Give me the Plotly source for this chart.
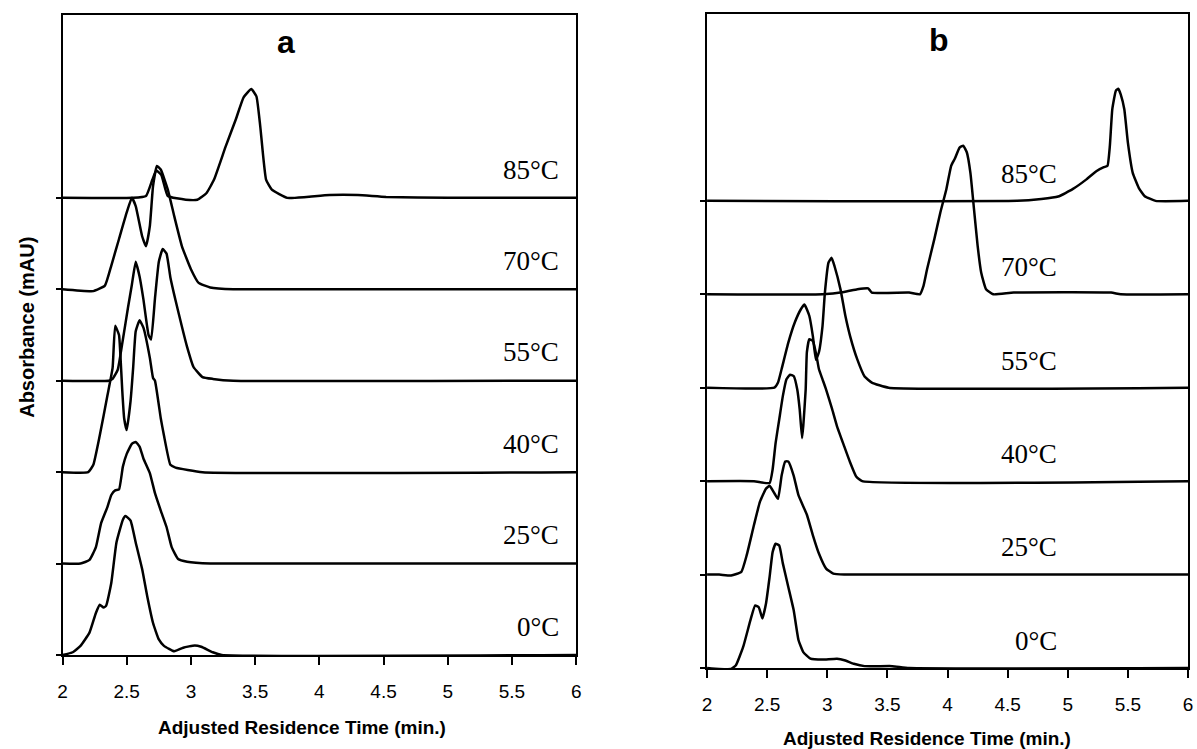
import plotly.graph_objects as go

# ---------------- data ----------------
TEMPS = ["0°C", "25°C", "40°C", "55°C", "70°C", "85°C"]
X_TICKS = [2, 2.5, 3, 3.5, 4, 4.5, 5, 5.5, 6]

# Panel a : retention time (min) / absorbance (relative, per trace)
A_0_T = [2.0, 2.08, 2.14, 2.21, 2.26, 2.29, 2.32, 2.34, 2.38, 2.42, 2.47, 2.49, 2.53, 2.57, 2.62, 2.66, 2.705, 2.75, 2.79, 2.87, 2.94, 3.03, 3.08, 3.17, 3.24, 6.0]
A_0_Y = [0.0, 0.03, 0.10, 0.245, 0.46, 0.55, 0.52, 0.54, 0.79, 1.23, 1.48, 1.52, 1.47, 1.23, 0.94, 0.64, 0.35, 0.17, 0.10, 0.04, 0.08, 0.105, 0.09, 0.03, 0.0, 0.0]

A_25_T = [2.0, 2.14, 2.21, 2.26, 2.30, 2.35, 2.38, 2.41, 2.44, 2.47, 2.50, 2.54, 2.57, 2.60, 2.63, 2.68, 2.72, 2.765, 2.81, 2.85, 2.90, 2.97, 3.15, 6.0]
A_25_Y = [0.0, 0.0, 0.04, 0.18, 0.44, 0.62, 0.75, 0.80, 0.81, 1.06, 1.20, 1.31, 1.33, 1.28, 1.15, 0.99, 0.77, 0.58, 0.40, 0.18, 0.05, 0.02, 0.0, 0.0]

A_40_T = [2.0, 2.20, 2.24, 2.29, 2.35, 2.39, 2.41, 2.44, 2.45, 2.465, 2.48, 2.50, 2.53, 2.55, 2.57, 2.60, 2.63, 2.68, 2.705, 2.72, 2.765, 2.79, 2.84, 2.88, 3.09, 6.0]
A_40_Y = [0.0, 0.0, 0.08, 0.40, 0.84, 1.14, 1.60, 1.50, 1.30, 0.90, 0.59, 0.46, 0.78, 1.14, 1.54, 1.66, 1.58, 1.25, 1.03, 1.00, 0.59, 0.40, 0.08, 0.05, 0.0, 0.0]

A_55_T = [2.0, 2.36, 2.39, 2.43, 2.47, 2.51, 2.54, 2.57, 2.60, 2.63, 2.67, 2.69, 2.72, 2.75, 2.78, 2.81, 2.84, 2.88, 2.93, 2.97, 3.02, 3.09, 3.17, 3.33, 6.0]
A_55_Y = [0.0, 0.0, 0.02, 0.12, 0.45, 0.80, 1.05, 1.30, 1.14, 0.89, 0.50, 0.45, 0.90, 1.30, 1.44, 1.39, 1.13, 0.88, 0.59, 0.37, 0.15, 0.04, 0.02, 0.0, 0.0]

A_70_T = [2.0, 2.24, 2.33, 2.38, 2.44, 2.50, 2.54, 2.57, 2.62, 2.65, 2.68, 2.705, 2.735, 2.765, 2.82, 2.87, 2.93, 3.00, 3.06, 3.15, 3.33, 6.0]
A_70_Y = [0.0, -0.02, 0.04, 0.26, 0.55, 0.84, 1.00, 0.91, 0.58, 0.47, 0.69, 1.13, 1.35, 1.31, 1.09, 0.80, 0.47, 0.22, 0.07, 0.02, 0.0, 0.0]

A_85_T = [2.0, 2.55, 2.65, 2.70, 2.73, 2.77, 2.82, 2.96, 3.05, 3.12, 3.18, 3.27, 3.35, 3.41, 3.47, 3.51, 3.54, 3.585, 3.63, 3.75, 3.90, 4.08, 4.30, 4.52, 5.0, 6.0]
A_85_Y = [0.0, 0.0, 0.02, 0.20, 0.30, 0.25, 0.02, -0.02, -0.02, 0.05, 0.20, 0.56, 0.86, 1.10, 1.19, 1.11, 0.78, 0.20, 0.09, 0.0, 0.01, 0.03, 0.03, 0.01, 0.0, 0.0]

# Panel b
B_0_T = [2.0, 2.10, 2.20, 2.24, 2.30, 2.36, 2.40, 2.43, 2.46, 2.49, 2.52, 2.545, 2.57, 2.60, 2.63, 2.675, 2.72, 2.76, 2.80, 2.86, 2.96, 3.08, 3.15, 3.22, 3.31, 3.54, 3.68, 6.0]
B_0_Y = [0.0, -0.01, -0.01, 0.03, 0.225, 0.51, 0.67, 0.65, 0.53, 0.69, 0.975, 1.24, 1.33, 1.31, 1.12, 0.87, 0.62, 0.30, 0.17, 0.10, 0.09, 0.10, 0.08, 0.046, 0.02, 0.02, 0.0, 0.0]

B_25_T = [2.0, 2.10, 2.20, 2.285, 2.33, 2.39, 2.44, 2.49, 2.52, 2.56, 2.59, 2.62, 2.65, 2.675, 2.72, 2.76, 2.83, 2.88, 2.93, 2.99, 3.05, 3.14, 6.0]
B_25_Y = [0.0, 0.0, -0.01, 0.03, 0.21, 0.53, 0.78, 0.92, 0.95, 0.87, 0.81, 1.06, 1.21, 1.21, 1.06, 0.85, 0.64, 0.42, 0.225, 0.064, 0.01, 0.0, 0.0]

B_40_T = [2.0, 2.39, 2.52, 2.545, 2.57, 2.60, 2.63, 2.66, 2.69, 2.72, 2.75, 2.77, 2.79, 2.80, 2.82, 2.83, 2.85, 2.88, 2.91, 2.93, 2.96, 2.99, 3.04, 3.08, 3.14, 3.19, 3.24, 3.29, 6.0]
B_40_Y = [0.0, 0.0, -0.02, 0.125, 0.41, 0.66, 0.91, 1.09, 1.14, 1.125, 0.98, 0.77, 0.46, 0.59, 0.98, 1.38, 1.52, 1.50, 1.34, 1.20, 1.09, 0.98, 0.77, 0.59, 0.375, 0.20, 0.05, 0.0, 0.0]

B_55_T = [2.0, 2.56, 2.59, 2.62, 2.675, 2.73, 2.78, 2.81, 2.85, 2.88, 2.905, 2.93, 2.96, 2.98, 3.01, 3.035, 3.06, 3.11, 3.15, 3.19, 3.25, 3.31, 3.37, 3.51, 6.0]
B_55_Y = [0.0, 0.0, 0.055, 0.20, 0.48, 0.70, 0.84, 0.89, 0.77, 0.55, 0.30, 0.38, 0.66, 1.02, 1.34, 1.39, 1.30, 1.05, 0.77, 0.55, 0.30, 0.12, 0.055, 0.0, 0.0]

B_70_T = [2.0, 2.96, 3.14, 3.25, 3.34, 3.37, 3.68, 3.77, 3.80, 3.83, 3.89, 3.94, 3.99, 4.03, 4.06, 4.10, 4.13, 4.16, 4.19, 4.22, 4.25, 4.28, 4.32, 4.38, 4.55, 5.36, 5.44, 6.0]
B_70_Y = [0.0, 0.0, 0.025, 0.054, 0.064, 0.018, 0.018, 0.0, 0.09, 0.27, 0.59, 0.875, 1.125, 1.375, 1.45, 1.57, 1.59, 1.52, 1.30, 0.91, 0.52, 0.23, 0.054, 0.0, 0.018, 0.018, 0.0, 0.0]

B_85_T = [2.0, 4.58, 4.78, 4.92, 5.04, 5.155, 5.24, 5.30, 5.33, 5.35, 5.37, 5.40, 5.42, 5.44, 5.47, 5.50, 5.54, 5.59, 5.64, 5.73, 6.0]
B_85_Y = [0.0, 0.0, 0.02, 0.046, 0.125, 0.23, 0.32, 0.36, 0.375, 0.59, 0.98, 1.18, 1.20, 1.14, 0.98, 0.62, 0.30, 0.14, 0.05, 0.0, 0.0]

PANEL_A = [(A_0_T, A_0_Y), (A_25_T, A_25_Y), (A_40_T, A_40_Y), (A_55_T, A_55_Y), (A_70_T, A_70_Y), (A_85_T, A_85_Y)]
PANEL_B = [(B_0_T, B_0_Y), (B_25_T, B_25_Y), (B_40_T, B_40_Y), (B_55_T, B_55_Y), (B_70_T, B_70_Y), (B_85_T, B_85_Y)]

# ---------------- figure ----------------
W, H = 1197, 749
fig = go.Figure()

line = dict(color="black", width=2.5, shape="spline", smoothing=0.4)
for panel, (xa, ya) in ((PANEL_A, ("x", "y")), (PANEL_B, ("x2", "y2"))):
    for level, (t, a) in enumerate(panel):
        fig.add_trace(go.Scatter(x=t, y=[v + level for v in a], mode="lines",
                                 line=line, xaxis=xa, yaxis=ya,
                                 showlegend=False, hoverinfo="skip"))

def px_x(p):
    return p / W

def px_y(p):
    return 1 - p / H

tickfont = dict(family="Arial, Liberation Sans, sans-serif", size=19, color="black")
xcommon = dict(range=[2, 6], tickvals=X_TICKS, ticktext=[f"{v:g}" for v in X_TICKS],
               ticks="outside", ticklen=8, tickwidth=2, tickcolor="black",
               showline=True, linewidth=2, linecolor="black", mirror=True,
               showgrid=False, zeroline=False, tickfont=tickfont,
               ticklabelstandoff=10, fixedrange=True)
ycommon = dict(range=[0, 7], tickvals=list(range(len(TEMPS))), showticklabels=False,
               ticks="outside", ticklen=5, tickwidth=2, tickcolor="black",
               showline=True, linewidth=2, linecolor="black", mirror=True,
               showgrid=False, zeroline=False, fixedrange=True)

fig.update_layout(
    width=W, height=H,
    margin=dict(l=0, r=0, t=0, b=0),
    paper_bgcolor="white", plot_bgcolor="white",
    xaxis=dict(domain=[px_x(58), px_x(576)], anchor="y", **xcommon),
    yaxis=dict(domain=[px_y(655), px_y(15)], anchor="x", **ycommon),
    xaxis2=dict(domain=[px_x(708), px_x(1193)], anchor="y2", **xcommon),
    yaxis2=dict(domain=[px_y(668), px_y(14)], anchor="x2", **ycommon),
)

serif = dict(family="Times New Roman, Liberation Serif, serif", size=27, color="black")
for level, name in enumerate(TEMPS):
    fig.add_annotation(x=5.88, y=level + 0.31, xref="x", yref="y", text=name,
                       showarrow=False, xanchor="right", yanchor="middle", font=serif)
    fig.add_annotation(x=4.93, y=level + 0.29, xref="x2", yref="y2", text=name,
                       showarrow=False, xanchor="right", yanchor="middle", font=serif)

bold = dict(family="Arial, Liberation Sans, sans-serif", color="black")
fig.add_annotation(x=px_x(283), y=px_y(42), xref="paper", yref="paper", text="<b>a</b>",
                   showarrow=False, xanchor="center", yanchor="middle", font=dict(size=32, **bold))
fig.add_annotation(x=px_x(942), y=px_y(40), xref="paper", yref="paper", text="<b>b</b>",
                   showarrow=False, xanchor="center", yanchor="middle", font=dict(size=32, **bold))

fig.add_annotation(x=px_x(299), y=px_y(727), xref="paper", yref="paper",
                   text="<b>Adjusted Residence Time (min.)</b>", showarrow=False,
                   xanchor="center", yanchor="middle", font=dict(size=19, **bold))
fig.add_annotation(x=px_x(930), y=px_y(738), xref="paper", yref="paper",
                   text="<b>Adjusted Residence Time (min.)</b>", showarrow=False,
                   xanchor="center", yanchor="middle", font=dict(size=19, **bold))
fig.add_annotation(x=px_x(22), y=px_y(327), xref="paper", yref="paper",
                   text="<b>Absorbance (mAU)</b>", showarrow=False, textangle=-90,
                   xanchor="center", yanchor="middle", font=dict(size=20, **bold))

fig.write_html("out.html", config={"displayModeBar": False},
               post_script="document.body.style.margin='0';document.body.style.overflow='hidden';")
